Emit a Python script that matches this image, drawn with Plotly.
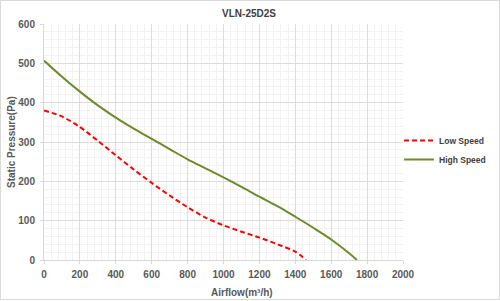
import plotly.graph_objects as go

low_x = [0, 100, 200, 300, 400, 500, 600, 700, 800, 900, 1000, 1100, 1200, 1300, 1400, 1460]
low_y = [380, 365, 338, 303, 266, 230, 196, 164, 134, 108, 88, 72, 57, 40, 21, 0]

high_x = [0, 100, 200, 300, 400, 500, 600, 700, 800, 900, 1000, 1100, 1200, 1300, 1400, 1500, 1600, 1700, 1743]
high_y = [507, 466, 428, 393, 362, 334, 308, 282, 256, 233, 210, 186, 161, 137, 110, 82, 52, 17, 0]

series_names = ["Low Speed", "High Speed"]
title_text = "VLN-25D2S"
x_title = "Airflow(m³/h)"
y_title = "Static Pressure(Pa)"

W, H = 500, 301
L, R, T, B = 44, 97, 24, 41
pw, ph = W - L - R, H - T - B

def px(x):
    return (x - L) / pw

def py(y):
    return (H - B - y) / ph

fig = go.Figure()
fig.add_trace(go.Scatter(x=low_x, y=low_y, mode="lines", name="<b>" + series_names[0] + "</b>",
                         line=dict(color="#FF0000", width=2, dash="5px,3px", shape="spline", smoothing=0.8)))
fig.add_trace(go.Scatter(x=high_x, y=high_y, mode="lines", name="<b>" + series_names[1] + "</b>",
                         line=dict(color="#6E8B2A", width=2, shape="spline", smoothing=1.0)))

font_fam = "Liberation Sans, Arial, sans-serif"

axis_common = dict(showgrid=True, gridcolor="#DCDCDC", gridwidth=1,
                   zeroline=False, showline=True, linecolor="#D9D9D9", linewidth=1,
                   ticks="outside", ticklen=3, tickcolor="#D9D9D9",
                   tickfont=dict(family=font_fam, size=10, color="#595959"),
                   tickprefix="<b>", ticksuffix="</b>", automargin=False)

fig.update_layout(
    width=W, height=H,
    margin=dict(l=L, r=R, t=T, b=B, pad=0, autoexpand=False),
    paper_bgcolor="white", plot_bgcolor="white",
    font=dict(family=font_fam, color="#595959"),
    title=dict(text="<b>" + title_text + "</b>", x=px(249), xanchor="center", xref="paper",
               y=1 - 13 / H, yanchor="middle", font=dict(size=10, color="#404040")),
    showlegend=True,
    legend=dict(x=px(399), xanchor="left", y=py(126), yanchor="top",
                font=dict(family=font_fam, size=8.5, color="#404040"),
                bgcolor="rgba(0,0,0,0)", tracegroupgap=0, itemwidth=30),
    xaxis=dict(range=[0, 2000], dtick=200, tick0=0, ticklabelstandoff=2,
               minor=dict(dtick=40, showgrid=True, gridcolor="#F2F2F2", gridwidth=1),
               **axis_common),
    yaxis=dict(range=[0, 600], dtick=100, tick0=0, ticklabelstandoff=3,
               minor=dict(dtick=20, showgrid=True, gridcolor="#F2F2F2", gridwidth=1),
               **axis_common),
    annotations=[
        dict(text="<b>" + x_title + "</b>", xref="paper", yref="paper", x=px(242), y=py(292),
             xanchor="center", yanchor="middle", showarrow=False,
             font=dict(family=font_fam, size=10, color="#595959")),
        dict(text="<b>" + y_title + "</b>", xref="paper", yref="paper", x=px(11), y=py(142),
             xanchor="center", yanchor="middle", showarrow=False, textangle=-90,
             font=dict(family=font_fam, size=10, color="#595959")),
    ],
    shapes=[
        dict(type="rect", xref="paper", yref="paper", x0=px(0.5), x1=px(499.5), y0=py(299.5), y1=py(0.5),
             line=dict(color="#D9D9D9", width=1), layer="below"),
    ],
)

fig.write_html("out.html", config={"displayModeBar": False},
               post_script="document.body.style.margin='0px';document.body.style.overflow='hidden';")
